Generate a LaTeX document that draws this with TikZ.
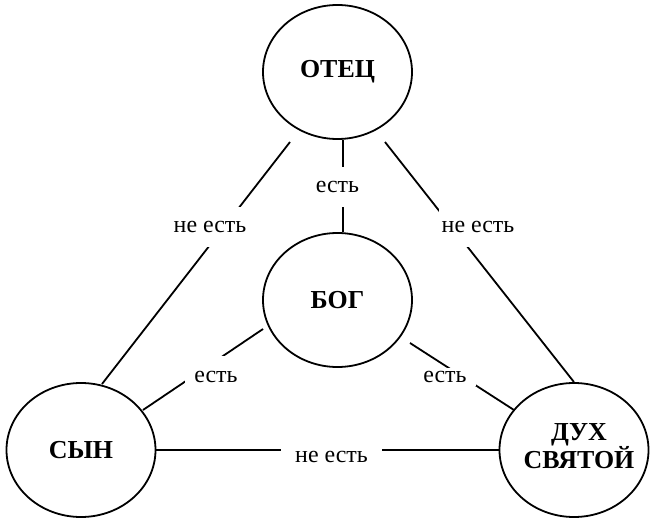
\documentclass[tikz,border=0pt]{standalone}
\usepackage{fontspec}
\setmainfont{Liberation Serif}
\usetikzlibrary{shapes.geometric,calc}
\begin{document}
\begin{tikzpicture}[x=1bp,y=-1bp,
  circ/.style={ellipse,draw,line width=1.8bp,minimum width=149bp,minimum height=134bp,inner sep=0pt},
  nametext/.style={font=\fontsize{26}{28}\selectfont\bfseries,align=center,inner sep=0pt},
  lbl/.style={font=\fontsize{24}{28}\selectfont,fill=white,text height=11bp,text depth=0bp},
  conn/.style={line width=1.8bp}]
\useasboundingbox (0,0) rectangle (650,518);
\node[circ] (otec) at (337.5,72) {};
\node[circ] (bog) at (337.5,300) {};
\node[circ] (syn) at (81,450) {};
\node[circ] (duh) at (574,450) {};
\node[nametext] (totec) at (otec) {ОТЕЦ};
\node[nametext] (tbog) at (bog) {БОГ};
\node[nametext] (tsyn) at (syn) {СЫН};
\node[nametext] (tduh) at ($(duh)+(5,-4)$) {ДУХ\\СВЯТОЙ};
\coordinate (o1) at ($(otec)+(-47.5,70)$);
\coordinate (o2) at ($(otec)+(47.5,70)$);
\coordinate (s1) at ($(syn)+(21,-66)$);
\coordinate (b1) at ($(bog)+(-74.5,29)$);
\coordinate (b2) at ($(bog)+(72.5,43)$);
\coordinate (s2) at ($(syn)+(62,-40)$);
\coordinate (d2) at ($(duh)+(-60,-40)$);
\draw[conn] ([xshift=5.5bp]otec.south) -- ([xshift=5.5bp]bog.north);
\draw[conn] (o1) -- (s1);
\draw[conn] (o2) -- (duh.north);
\draw[conn] (b1) -- (s2);
\draw[conn] (b2) -- (d2);
\draw[conn] (syn.east) -- (duh.west);
\node[lbl,inner xsep=3bp,inner ysep=14.5bp] (l1) at (337.5,187) {есть};
\node[lbl,inner xsep=3bp,inner ysep=14.5bp] (l2) at (210,227) {не есть};
\node[lbl,inner xsep=3bp,inner ysep=14.5bp] (l3) at (478,227) {не есть};
\node[lbl,inner xsep=14.5bp,inner ysep=3bp] (l4) at (331.5,457) {не есть};
\node[lbl,inner xsep=9.5bp,inner ysep=15.5bp] (l5) at (216,377) {есть};
\node[lbl,inner xsep=9.5bp,inner ysep=3.5bp] (l6) at (445,377) {есть};
\end{tikzpicture}
\end{document}
